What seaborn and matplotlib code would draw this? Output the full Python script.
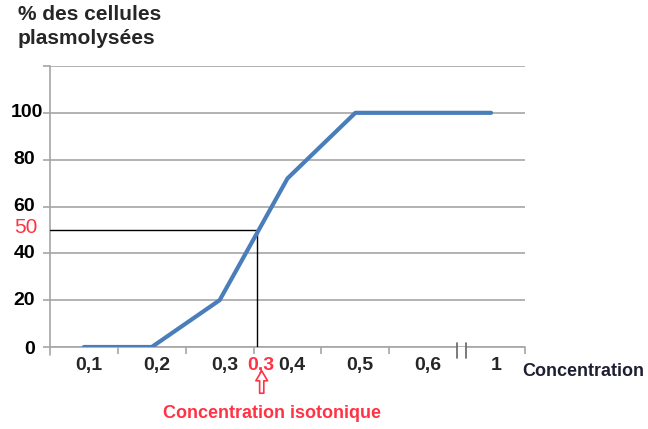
import pandas as pd
import matplotlib
matplotlib.use("Agg")
import matplotlib.pyplot as plt
import seaborn as sns

# data
concentrations = ["0,1", "0,2", "0,3", "0,4", "0,5", "0,6", "1"]
pct_plasmolysed = [0, 0, 20, 72, 100, 100, 100]
y_ticks = [0, 20, 40, 60, 80, 100, 120]
y_labels = ["0", "20", "40", "60", "80", "100", ""]
iso_label = "0,3"
iso_pct = 50
iso_pos = 2.55  # between 0,3 and 0,4 on the category axis

sns.set_theme(style="white")
plt.rcParams['font.family'] = ['Liberation Sans', 'DejaVu Sans']

df = pd.DataFrame({"idx": range(len(concentrations)), "pct": pct_plasmolysed})

fig = plt.figure(figsize=(6.48, 4.29), dpi=100)
ax = fig.add_axes([50/648, 1-347/429, 475/648, 281/429])

sns.lineplot(data=df, x="idx", y="pct", color="#4a7ebb", lw=3, ax=ax, zorder=4)

ax.set_xlim(-0.5, len(concentrations) - 0.5)
ax.set_ylim(0, 120)
ax.set_xlabel("")
ax.set_ylabel("")

# y axis: gridlines + bold labels (placed by hand, "100" sits closer to the axis)
ax.set_yticks(y_ticks)
ax.set_yticklabels([])
ax.grid(axis="y", color="#a6a6a6", lw=1.2)
ax.tick_params(axis="y", length=5, color="#a6a6a6", width=1.2, left=True)
for v, lab in zip(y_ticks, y_labels):
    dx = -5 if lab == "100" else -10.8
    dy = -2 if v == 0 else 0
    ax.annotate(lab, xy=(0, v), xycoords=("axes fraction", "data"),
                xytext=(dx, dy), textcoords="offset points", ha="right", va="center",
                fontsize=14, fontweight="bold", color="black", annotation_clip=False)

# x axis: tick marks between categories, labels at categories
bounds = [0.5, 1.5, 2.5, 3.5, 4.5, 6.5]
ax.set_xticks(bounds)
ax.set_xticklabels([])
ax.tick_params(axis="x", which="major", length=5, color="#a6a6a6", width=1.2, bottom=True)
ax.set_xticks([i + 0.07 for i in range(len(concentrations))], minor=True)
ax.set_xticklabels(concentrations, minor=True, fontsize=14, fontweight="bold")
ax.tick_params(axis="x", which="minor", length=0, pad=7)

for s in ["top", "right", "bottom"]:
    ax.spines[s].set_visible(False)
ax.spines["left"].set_color("#a6a6a6")
ax.spines["left"].set_linewidth(1.2)

# bottom axis with a break between 0,6 and 1
ax.plot([-0.5, 5.5], [0, 0], color="#a6a6a6", lw=1.2, clip_on=False, zorder=3)
ax.plot([5.63, 6.5], [0, 0], color="#a6a6a6", lw=1.2, clip_on=False, zorder=3)
ax.plot([5.5, 5.5], [1.8, -4.7], color="#707070", lw=1.3, clip_on=False, zorder=3)
ax.plot([5.63, 5.63], [1.8, -4.7], color="#707070", lw=1.3, clip_on=False, zorder=3)
ax.plot([-0.5, -0.5], [0, -3.5], color="#a6a6a6", lw=1.2, clip_on=False)

# isotonic concentration guide lines
ax.plot([-0.5, iso_pos], [iso_pct, iso_pct], color="black", lw=1, zorder=3)
ax.plot([iso_pos, iso_pos], [0, iso_pct], color="black", lw=1, zorder=3)

red = "#ff3344"
ax.annotate(str(iso_pct), xy=(0, iso_pct), xycoords=("axes fraction", "data"),
            xytext=(-9, 2), textcoords="offset points", ha="right", va="center",
            color=red, fontsize=15)
ax.annotate(iso_label, xy=(iso_pos + 0.05, 0), xycoords="data",
            xytext=(0, -7.5), textcoords="offset points", ha="center", va="top",
            color=red, fontsize=14, fontweight="bold")
ax.annotate("", xy=(iso_pos + 0.07, 61), xycoords=("data", "figure pixels"),
            xytext=(iso_pos + 0.07, 33), textcoords=("data", "figure pixels"),
            arrowprops=dict(arrowstyle="simple,head_length=0.6,head_width=0.7,tail_width=0.25",
                            fc="white", ec=red, lw=1.2))

fig.text(272/648, 1-413/429, "Concentration isotonique", ha="center", va="center",
         color=red, fontsize=13, fontweight="bold")
fig.text(522/648, 1-372/429, "Concentration", ha="left", va="center",
         color="#1f1f33", fontsize=13, fontweight="bold")
fig.text(18/648, 1-5/429, "% des cellules\nplasmolysées", ha="left", va="top",
         fontsize=15, fontweight="bold", linespacing=1.3)

fig.savefig("out.png", dpi=100)
